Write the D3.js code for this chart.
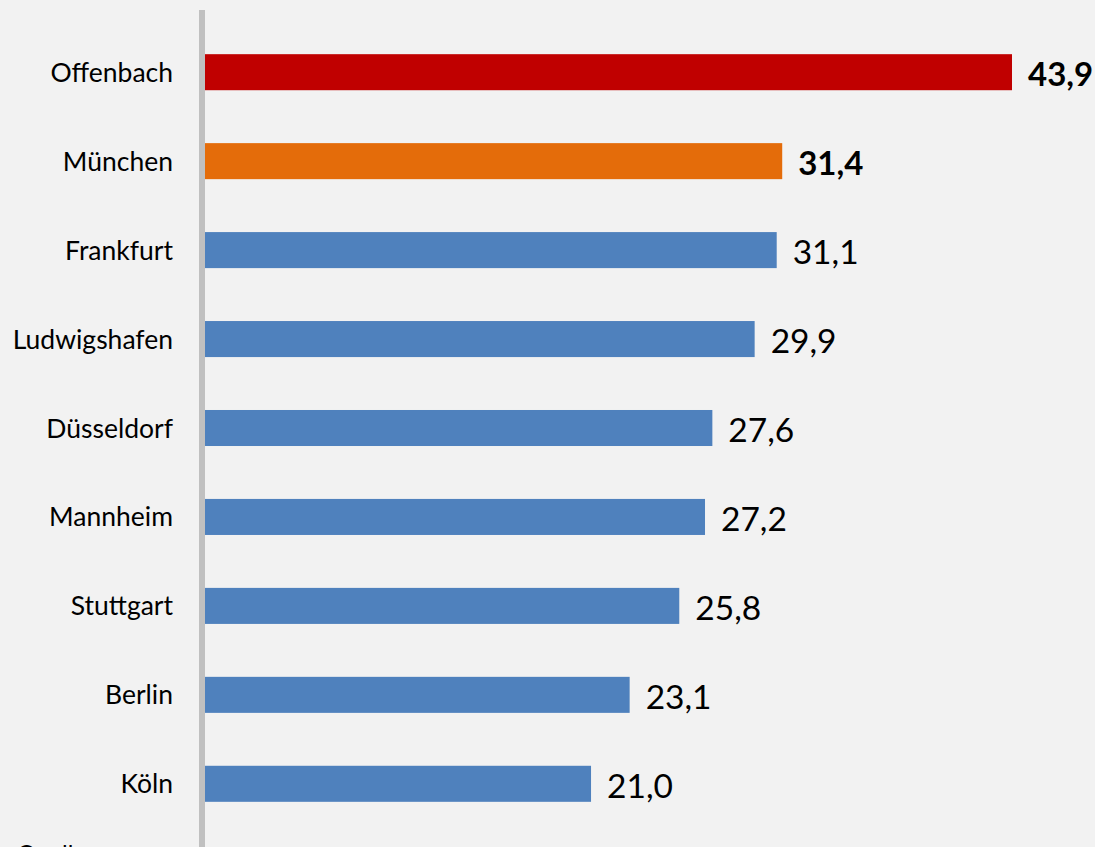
<!DOCTYPE html>
<html><head><meta charset="utf-8">
<script src="https://cdn.jsdelivr.net/npm/d3@7"></script>
<style>html,body{margin:0;padding:0;background:#f2f2f2;overflow:hidden}</style>
</head><body>
<svg id="c" width="1095" height="847"></svg>
<script>
const categories = ["Offenbach","München","Frankfurt","Ludwigshafen","Düsseldorf","Mannheim","Stuttgart","Berlin","Köln"];
const values = [43.9,31.4,31.1,29.9,27.6,27.2,25.8,23.1,21.0];
const highlight = ["top","second","normal","normal","normal","normal","normal","normal","normal"];
const sourceText = "Quelle:";

const colorMap = {top:"#c00000", second:"#e46c0a", normal:"#4f81bd"};
const svg = d3.select("#c");
svg.append("rect").attr("width",1095).attr("height",847).attr("fill","#f2f2f2");

const x0 = 205;
const x = d3.scaleLinear().domain([0,43.9]).range([x0,1012]);
const y = d3.scaleBand().domain(categories).range([27.5,828.5]).paddingInner(0.595).paddingOuter(0.3);

const fmt = v => d3.format(".1f")(v).replace(".",",");
const font = "Lato, 'Open Sans', sans-serif";

svg.selectAll("rect.bar").data(categories).enter().append("rect")
  .attr("class","bar")
  .attr("x",x0).attr("y",d=>y(d))
  .attr("width",(d,i)=>x(values[i])-x0)
  .attr("height",y.bandwidth())
  .attr("fill",(d,i)=>colorMap[highlight[i]]);

svg.selectAll("text.cat").data(categories).enter().append("text")
  .attr("class","cat")
  .attr("x",173).attr("y",d=>y(d)+y.bandwidth()/2)
  .attr("dy","0.36em")
  .attr("text-anchor","end")
  .attr("font-family",font)
  .attr("font-size",26.5)
  .attr("fill","#000")
  .text(d=>d);

svg.selectAll("text.val").data(categories).enter().append("text")
  .attr("class","val")
  .attr("x",(d,i)=>x(values[i])+16)
  .attr("y",d=>y(d)+y.bandwidth()/2+2)
  .attr("dy","0.36em")
  .attr("font-family",font)
  .attr("font-size",(d,i)=>highlight[i]==="normal"?33.5:33)
  .attr("font-weight",(d,i)=>highlight[i]==="normal"?"normal":"bold")
  .attr("fill","#000")
  .text((d,i)=>fmt(values[i]));

svg.append("line").attr("x1",202).attr("x2",202).attr("y1",10).attr("y2",847)
  .attr("stroke","#c0c0c0").attr("stroke-width",6);

svg.append("text").attr("x",17).attr("y",862)
  .attr("font-family",font).attr("font-size",24)
  .attr("fill","#000").text(sourceText);
</script>
</body></html>
